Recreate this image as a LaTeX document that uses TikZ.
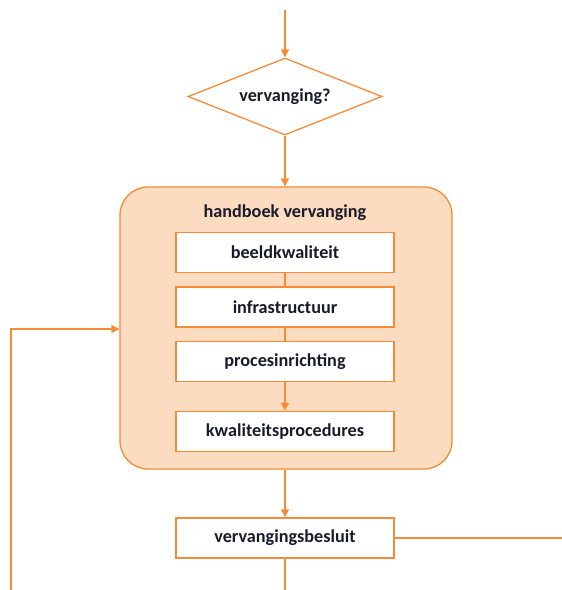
\documentclass[tikz,border=0pt]{standalone}
\usepackage{fontspec}
\setmainfont{Carlito}
\usetikzlibrary{arrows.meta,shapes.geometric}
\definecolor{orng}{HTML}{F68B37}
\definecolor{peach}{HTML}{FCDCC1}
\definecolor{txt}{HTML}{1A1A2A}
\tikzset{
  line/.style={draw=orng,line width=1.5pt},
  arr/.style={line,-{Triangle[length=8pt,width=8pt]}},
  lbl/.style={text=txt,font=\fontsize{18.2}{21}\bfseries\selectfont},
  stepbox/.style={lbl,draw=orng,line width=1.5pt,fill=white,minimum width=218pt,minimum height=40pt,inner sep=0pt},
}
\begin{document}
\begin{tikzpicture}[x=1pt,y=-1pt]
\useasboundingbox (0,0) rectangle (562,590);
\coordinate (top) at (285,10);
\node[lbl,draw=orng,line width=1.3pt,diamond,aspect=2.5,minimum width=194pt,minimum height=77pt,inner sep=0pt] (q) at (285,96.5) {vervanging?};
\node[draw=orng,line width=1.3pt,fill=peach,rounded corners=28pt,minimum width=332pt,minimum height=282pt,inner sep=0pt] (hb) at (286,328) {};
\node[lbl] (title) at (285,213) {handboek vervanging};
\node[stepbox] (b1) at (285,252.5) {beeldkwaliteit};
\node[stepbox] (b2) at (285,307) {infrastructuur};
\node[stepbox] (b3) at (285,361.5) {procesinrichting};
\node[stepbox] (b4) at (285,431.5) {kwaliteitsprocedures};
\node[stepbox] (vb) at (285,538) {vervangingsbesluit};
\coordinate (bot) at (285,590);
\coordinate (right) at (562,538);
\coordinate (lb) at (11,590);
\coordinate (lt) at (11,329);
\draw[arr] (top) -- (q.north);
\draw[arr] (q.south) -- (hb.north -| q.south);
\draw[line] (b1) -- (b2);
\draw[line] (b2) -- (b3);
\draw[arr] (b3) -- (b4);
\draw[arr] (hb.south -| vb.north) -- (vb.north);
\draw[line] (vb.east) -- (right);
\draw[line] (vb.south) -- (bot);
\draw[arr] (lb) -- (lt) -- (lt -| hb.west);
\end{tikzpicture}
\end{document}
